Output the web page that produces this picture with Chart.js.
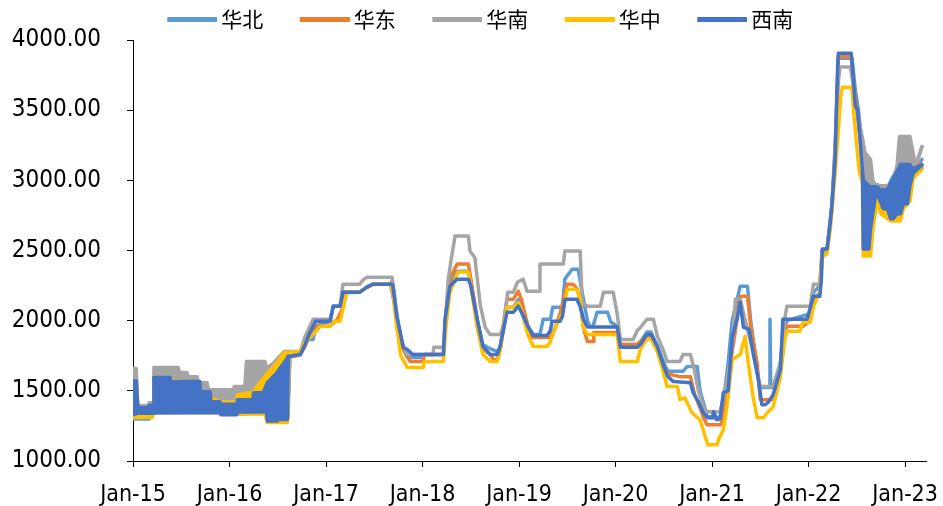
<!DOCTYPE html>
<html><head><meta charset="utf-8">
<script src="https://cdn.jsdelivr.net/npm/chart.js@4.4.1/dist/chart.umd.min.js"></script>
<style>html,body{margin:0;padding:0;background:#fff}</style>
</head><body>
<canvas id="c" width="943" height="506"></canvas>
<script>
// x = months since Jan 2015
const seriesNames = ['华北','华东','华南','华中','西南'];
const seriesColors = ['#5B9BD5','#ED7D31','#A5A5A5','#FFC000','#4472C4'];
const xTickLabels = ['Jan-15','Jan-16','Jan-17','Jan-18','Jan-19','Jan-20','Jan-21','Jan-22','Jan-23'];
const yTicks = [1000,1500,2000,2500,3000,3500,4000];

// main lines
const huabei = [[19.5,1750],[20.8,1760],[21.4,1820],[21.6,1866],[22.4,1866],[22.7,1960],[24.5,1995],[24.9,2103],[25.75,2103],[26.1,2203],[28.2,2203],[29.1,2239],[29.85,2260],[32.0,2260],[32.8,2040],[33.6,1800],[34.1,1737],[36.1,1737],[36.2,1759],[38.6,1759],[38.9,2030],[39.4,2250],[40.3,2353],[41.7,2353],[42.0,2280],[42.8,2010],[43.5,1830],[44.4,1800],[45.3,1780],[45.65,1810],[46.5,2096],[47.3,2096],[47.9,2150],[48.3,2080],[49.1,1960],[49.75,1902],[50.6,1902],[51.0,2010],[51.9,2010],[52.2,2096],[53.4,2096],[53.7,2296],[54.6,2367],[55.35,2367],[55.85,2200],[56.5,2000],[56.8,1960],[57.2,1960],[57.7,2060],[59.0,2060],[59.4,1990],[60.2,1960],[60.6,1831],[62.7,1831],[63.1,1850],[63.9,1920],[64.4,1920],[65.2,1820],[66.0,1700],[66.5,1640],[68.4,1640],[68.9,1673],[70.15,1673],[70.5,1500],[71.4,1320],[72.6,1300],[73.0,1320],[73.4,1420],[74.0,1700],[74.5,2000],[75.5,2246],[76.4,2246],[76.8,2000],[77.7,1600],[78.0,1523],[79.1,1523],[79.2,2010],[79.3,1523],[79.6,1523],[80.5,1700],[80.8,1900],[81.3,2000],[84.2,2050],[84.6,2200],[85.4,2250],[85.7,2500],[86.3,2520],[86.9,2830],[87.3,3250],[87.7,3870],[89.4,3870],[89.8,3650],[90.2,3500],[90.7,3200],[91.0,3050],[91.7,2980],[93.8,2950],[95.0,3080],[96.6,3100],[97.3,3060],[98.1,3150]];
const huadong = [[19.5,1740],[20.8,1755],[21.4,1820],[22.0,1900],[22.5,1960],[24.5,1960],[25.4,2010],[26.0,2081],[26.3,2203],[28.2,2203],[29.1,2239],[29.85,2260],[32.0,2260],[32.2,2282],[32.6,2100],[33.2,1850],[34.0,1760],[34.45,1709],[36.1,1709],[36.2,1759],[38.6,1759],[38.9,2050],[39.4,2300],[40.3,2403],[41.7,2403],[42.0,2300],[42.8,2000],[43.5,1800],[44.4,1760],[44.8,1723],[45.3,1723],[45.65,1800],[46.5,2153],[47.3,2153],[47.9,2210],[48.3,2150],[49.1,1960],[49.4,1880],[51.9,1880],[52.5,1950],[53.1,2050],[54.0,2260],[54.7,2260],[55.2,2230],[55.6,2150],[56.0,1950],[56.5,1852],[57.2,1852],[57.3,1916],[60.2,1916],[60.6,1831],[62.7,1831],[63.9,1890],[64.4,1890],[65.2,1790],[66.0,1660],[66.5,1620],[68.0,1601],[69.3,1601],[69.8,1480],[70.5,1380],[71.0,1300],[71.4,1258],[73.0,1258],[73.4,1300],[74.0,1600],[74.7,1850],[75.5,2174],[76.4,2174],[76.8,1960],[77.6,1700],[78.0,1437],[79.6,1437],[80.5,1650],[81.0,1900],[81.3,1960],[83.3,1960],[84.2,2000],[84.6,2150],[85.4,2200],[85.7,2480],[86.3,2500],[86.9,2800],[87.3,3200],[87.7,3880],[89.3,3880],[89.6,3700],[90.0,3500],[90.4,3300],[90.8,3050],[92.5,2950],[93.8,2930],[95.0,3050],[96.6,3080],[97.3,3060],[97.6,3130],[98.1,3090]];
const huanan = [[19.5,1780],[20.8,1780],[21.4,1888],[22.0,1960],[22.4,2010],[24.5,2010],[24.9,2103],[25.75,2103],[26.1,2260],[28.2,2260],[28.6,2290],[29.1,2310],[32.2,2310],[32.5,2200],[33.0,1950],[33.6,1820],[34.1,1759],[37.3,1759],[37.4,1810],[38.6,1810],[39.2,2296],[39.6,2450],[40.05,2604],[41.7,2604],[41.9,2497],[42.5,2450],[42.8,2300],[43.2,2103],[43.8,1952],[44.4,1902],[45.65,1902],[46.0,1950],[46.6,2203],[47.3,2203],[47.8,2274],[48.5,2296],[49.0,2210],[50.5,2210],[50.6,2403],[53.5,2403],[53.7,2497],[55.6,2497],[55.85,2131],[56.5,2103],[58.1,2103],[58.5,2203],[59.7,2203],[60.2,2050],[60.6,1866],[62.2,1866],[62.7,1930],[63.1,1952],[63.9,2010],[64.7,2010],[65.2,1890],[66.0,1780],[66.4,1709],[68.0,1709],[68.4,1759],[69.3,1759],[69.8,1650],[70.3,1500],[71.0,1380],[71.4,1351],[73.0,1351],[73.6,1500],[74.5,1800],[74.9,2153],[75.5,2153],[76.0,2030],[77.0,1800],[77.7,1600],[78.0,1530],[79.6,1530],[80.5,1700],[81.0,2000],[81.3,2103],[84.2,2103],[84.6,2260],[85.4,2260],[85.7,2500],[86.3,2510],[86.7,2700],[86.9,2820],[87.3,3150],[87.7,3700],[87.9,3807],[89.2,3807],[89.5,3700],[89.8,3535],[90.2,3450],[90.7,3298]];
const huazhong = [[19.3,1773],[20.8,1780],[21.4,1850],[22.4,1900],[23.3,1960],[24.5,1960],[24.9,1995],[25.75,1995],[26.6,2203],[28.2,2203],[29.1,2239],[29.85,2260],[32.0,2260],[32.3,2200],[32.8,1950],[33.3,1750],[34.1,1666],[36.1,1666],[36.2,1709],[38.6,1709],[38.9,1950],[39.4,2200],[40.4,2346],[41.7,2346],[42.0,2250],[42.8,1950],[43.5,1760],[44.4,1709],[45.3,1709],[45.65,1780],[46.5,2096],[47.3,2096],[47.9,2130],[48.3,2080],[49.1,1900],[49.75,1816],[51.5,1816],[51.9,1850],[52.5,1950],[53.4,2050],[54.0,2224],[55.2,2224],[55.6,2150],[56.0,1950],[56.5,1902],[60.2,1902],[60.6,1709],[62.7,1709],[63.1,1800],[63.9,1870],[64.4,1870],[65.2,1780],[66.0,1620],[66.4,1530],[67.7,1530],[68.0,1437],[68.6,1450],[69.5,1344],[70.5,1294],[71.15,1172],[71.5,1115],[72.6,1115],[72.9,1165],[73.4,1222],[73.8,1365],[74.5,1723],[75.5,1759],[76.1,1888],[76.5,1700],[77.1,1458],[77.6,1308],[78.4,1308],[78.8,1340],[79.6,1387],[80.5,1600],[81.0,1850],[81.3,1924],[82.9,1924],[83.3,1988],[84.2,1988],[84.6,2100],[85.4,2200],[85.7,2450],[86.3,2480],[86.7,2650],[86.9,2780],[87.5,3200],[88.0,3600],[88.2,3663],[89.4,3663],[89.6,3500],[89.9,3298],[90.3,3062],[90.7,2990]];
const xinan = [[19.3,1745],[20.8,1759],[21.4,1831],[22.0,1916],[22.5,1973],[22.7,1995],[24.5,1995],[24.9,2103],[25.75,2103],[26.1,2203],[28.2,2203],[29.1,2239],[29.85,2260],[32.0,2260],[32.3,2253],[32.8,2031],[33.6,1810],[34.1,1795],[34.8,1759],[38.6,1759],[38.8,2010],[39.4,2246],[40.3,2296],[41.7,2296],[42.0,2250],[42.8,2010],[43.5,1817],[44.4,1759],[45.3,1759],[45.65,1817],[46.5,2060],[47.3,2060],[47.9,2103],[48.3,2060],[49.1,1960],[49.75,1895],[51.5,1895],[51.9,1930],[52.1,1995],[53.1,1995],[53.4,2031],[53.7,2153],[55.2,2153],[55.6,2100],[56.0,2010],[56.5,1955],[60.2,1955],[60.6,1810],[62.7,1810],[63.1,1831],[63.9,1902],[64.4,1902],[65.2,1816],[66.0,1673],[66.5,1601],[67.2,1566],[69.3,1558],[69.65,1487],[70.3,1422],[70.9,1344],[71.4,1308],[72.0,1308],[72.2,1350],[72.6,1294],[73.0,1300],[73.4,1487],[74.0,1500],[74.5,1880],[75.1,2010],[75.5,2131],[75.9,1952],[76.6,1940],[77.1,1773],[77.7,1601],[78.2,1401],[78.6,1401],[79.0,1420],[79.6,1473],[80.5,1652],[80.8,2010],[83.8,2010],[84.2,2090],[84.6,2174],[85.4,2174],[85.6,2300],[85.7,2510],[86.3,2510],[86.7,2700],[86.9,2820],[87.3,3150],[87.6,3780],[87.7,3906],[89.3,3906],[89.5,3778],[89.8,3535],[90.1,3500],[90.4,3298],[90.7,3062]];

// week-to-week swings drawn as bands (upper / lower envelope)
const huabeiHi15 = [[0,1560],[0.4,1560],[0.6,1330],[2.5,1340],[2.6,1590],[8.3,1560],[10.8,1420],[12.9,1400],[14.9,1440],[16.2,1500],[17.9,1630],[18.8,1720],[19.5,1750]];
const huabeiLo15 = [[0,1300],[2.0,1300],[2.5,1340],[10.8,1345],[12.9,1335],[16.6,1345],[17.9,1300],[19.2,1300],[19.5,1750]];
const huadongHi15 = [[0,1560],[0.4,1560],[0.6,1360],[2.5,1370],[2.6,1590],[8.3,1560],[10.8,1420],[12.9,1410],[14.9,1450],[16.2,1530],[17.9,1650],[18.8,1720],[19.5,1740]];
const huadongLo15 = [[0,1320],[0.6,1320],[2.5,1350],[10.8,1345],[11.0,1360],[12.9,1335],[16.6,1340],[16.7,1290],[19.2,1290],[19.5,1740]];
const huananHi15 = [[0,1660],[0.4,1660],[0.6,1395],[1.9,1395],[2.0,1415],[2.5,1415],[2.6,1666],[5.6,1666],[5.8,1630],[6.7,1630],[6.9,1600],[8.0,1600],[8.1,1558],[9.2,1558],[9.4,1508],[12.4,1508],[12.6,1530],[13.9,1530],[14.1,1709],[16.4,1709],[16.6,1660],[17.5,1700],[18.8,1780],[19.5,1780]];
const huananLo15 = [[0,1340],[2.5,1350],[2.6,1360],[10.8,1360],[12.9,1350],[16.6,1360],[17.9,1320],[19.3,1320],[19.5,1780]];
const huazhongHi15 = [[0,1560],[0.4,1560],[0.6,1350],[2.5,1360],[2.6,1580],[8.3,1560],[8.4,1490],[10.8,1420],[12.9,1420],[13.0,1472],[14.9,1490],[15.9,1566],[16.8,1630],[17.9,1701],[18.8,1773],[19.3,1773]];
const huazhongLo15 = [[0,1310],[2.4,1310],[2.6,1345],[10.8,1345],[12.9,1335],[16.4,1335],[16.7,1275],[19.2,1275],[19.3,1773]];
const xinanHi15 = [[0,1570],[0.4,1570],[0.6,1380],[1.9,1380],[2.0,1395],[2.5,1395],[2.6,1595],[4.6,1595],[4.7,1566],[8.3,1566],[8.4,1494],[9.6,1494],[9.7,1422],[10.8,1422],[10.9,1405],[12.9,1405],[13.0,1437],[14.9,1437],[15.0,1487],[16.2,1487],[16.7,1558],[17.9,1630],[18.8,1701],[19.3,1745]];
const xinanLo15 = [[0,1330],[0.6,1340],[2.5,1340],[2.6,1345],[10.8,1345],[10.9,1330],[12.9,1330],[13.0,1350],[16.6,1350],[16.7,1285],[17.9,1285],[18.0,1295],[19.2,1295],[19.3,1745]];
const huananHi22 = [[90.7,3298],[91.0,3200],[91.7,3150],[92.0,3000],[92.3,2962],[94.2,2962],[94.6,3020],[95.0,3105],[95.3,3312],[96.6,3312],[96.9,3227],[97.3,3105],[97.6,3150],[98.1,3240]];
const huananLo22 = [[90.7,3298],[91.0,2800],[91.7,2800],[92.3,2930],[94.2,2930],[95.0,2950],[96.6,3000],[97.3,3105],[98.1,3240]];
const huazhongHi22 = [[90.7,2990],[91.7,2950],[92.5,2920],[93.8,2900],[94.5,2950],[95.0,3030],[95.8,3050],[96.6,3050],[97.0,3020],[98.1,3080]];
const huazhongLo22 = [[90.7,2990],[90.8,2461],[91.7,2461],[92.0,2650],[92.5,2850],[93.0,2760],[94.2,2711],[95.4,2711],[95.8,2800],[96.6,2850],[97.0,3012],[98.1,3080]];
const xinanHi22 = [[90.7,3062],[90.8,2998],[91.6,2955],[92.5,2955],[92.9,2933],[93.8,2933],[94.2,2980],[95.0,3062],[95.4,3112],[96.6,3112],[96.9,3080],[97.3,3090],[98.1,3110]];
const xinanLo22 = [[90.7,3062],[90.8,2511],[91.5,2511],[91.7,2654],[92.3,2883],[92.7,2883],[93.3,2797],[93.8,2797],[94.2,2726],[94.5,2726],[95.0,2761],[95.4,2761],[95.8,2833],[96.3,2833],[96.6,2962],[97.0,3050],[98.1,3110]];

const mains = [huabei, huadong, huanan, huazhong, xinan];
const drawOrder = [5,4,3,2,1];
const bands = [
  [0, huabeiHi15, huabeiLo15], [1, huadongHi15, huadongLo15], [2, huananHi15, huananLo15],
  [3, huazhongHi15, huazhongLo15], [4, xinanHi15, xinanLo15],
  [2, huananHi22, huananLo22], [3, huazhongHi22, huazhongLo22], [4, xinanHi22, xinanLo22]
];

const toPts = a => a.map(p => ({x: p[0], y: p[1]}));
const lineStyle = (i) => ({
  borderColor: seriesColors[i], backgroundColor: seriesColors[i], borderWidth: 3.5,
  pointRadius: 0, pointHoverRadius: 0, tension: 0, order: drawOrder[i],
  borderJoinStyle: 'round', borderCapStyle: 'round'
});
const datasets = mains.map((d, i) => Object.assign({label: seriesNames[i], data: toPts(d), fill: false}, lineStyle(i)));
bands.forEach(([s, hi, lo]) => {
  datasets.push(Object.assign({label: '', data: toPts(hi), fill: '+1'}, lineStyle(s)));
  datasets.push(Object.assign({label: '', data: toPts(lo), fill: false}, lineStyle(s)));
});

// legend swatches: 50px bar ending just before the label text
const swatch = (color) => {
  const cv = document.createElement('canvas');
  cv.width = 84; cv.height = 5;
  const g = cv.getContext('2d');
  g.fillStyle = color; g.fillRect(34, 0, 50, 5);
  return cv;
};
const swatches = seriesColors.map(swatch);

const fam = "'DejaVu Sans Condensed', 'DejaVu Sans', sans-serif";

new Chart(document.getElementById('c'), {
  type: 'line',
  data: {datasets},
  options: {
    responsive: false, animation: false, events: [],
    layout: {padding: {left: 0, right: 10, top: 0, bottom: 0}},
    plugins: {
      tooltip: {enabled: false},
      legend: {
        position: 'top', align: 'center',
        labels: {
          usePointStyle: true, pointStyleWidth: 71, padding: 9, color: '#000',
          font: {family: "'Noto Sans CJK SC', sans-serif", size: 21},
          generateLabels: (chart) => {
            const items = Chart.defaults.plugins.legend.labels.generateLabels(chart);
            return items.filter(it => it.datasetIndex < mains.length)
              .sort((a, b) => a.datasetIndex - b.datasetIndex)
              .map(it => Object.assign(it, {pointStyle: swatches[it.datasetIndex], lineWidth: 0}));
          }
        }
      }
    },
    scales: {
      x: {
        type: 'linear', min: 0, max: 98.6,
        border: {display: true, color: '#000', width: 1},
        grid: {display: true, drawOnChartArea: false, drawTicks: true, tickLength: 6, color: '#000'},
        ticks: {stepSize: 12, includeBounds: false, autoSkip: false, maxRotation: 0, padding: 14, color: '#000',
          font: {family: fam, size: 23},
          callback: (v) => xTickLabels[Math.round(v / 12)] ?? ''},
        afterFit: (s) => { s.height = 45; s.paddingRight = 17; }
      },
      y: {
        type: 'linear', min: 1000, max: 4000,
        border: {display: true, color: '#000', width: 1},
        grid: {display: true, drawOnChartArea: false, drawTicks: true, tickLength: 6, color: '#000'},
        ticks: {stepSize: 500, padding: 26, color: '#000',
          font: {family: fam, size: 24, lineHeight: 0.1},
          callback: (v) => yTicks.includes(v) ? v.toFixed(2) : ''},
        afterFit: (s) => { s.width = 133; }
      }
    }
  }
});
</script>
</body></html>
